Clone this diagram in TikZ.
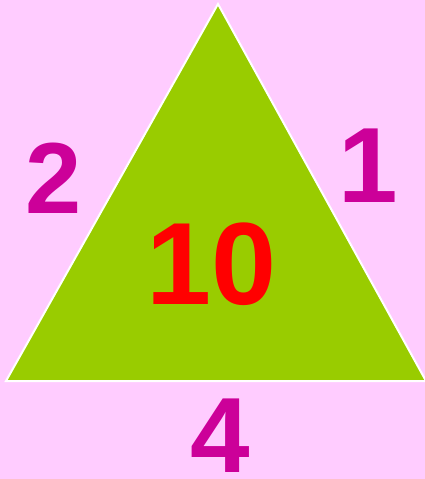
\documentclass[tikz,border=0pt]{standalone}
\usepackage{fontspec}
\setmainfont{Liberation Sans}
\usepackage{tikz}
\definecolor{bgpink}{HTML}{FFCCFF}
\definecolor{leafgreen}{HTML}{99CC00}
\definecolor{sidemagenta}{HTML}{CC0099}
\tikzset{side/.style = {text = sidemagenta, inner sep = 0pt, font = \bfseries\fontsize{107}{107}\selectfont}}
\tikzset{total/.style = {text = red, inner sep = 0pt, font = \bfseries\fontsize{117}{117}\selectfont}}

\begin{document}
\begin{tikzpicture}[x = 1pt, y = -1pt]
			\fill[bgpink] (0, 0) rectangle (425, 479);
			\useasboundingbox (0, 0) rectangle (425, 479);

			\coordinate (top) at (218, 4);
			\coordinate (left) at (6, 381);
			\coordinate (right) at (426, 381);
			\filldraw[fill = leafgreen, draw = white, line width = 2pt, line join = miter] (top) -- (left) -- (right) -- cycle;

			\node[side, font = \bfseries\fontsize{101}{101}\selectfont] (two) at (54, 178) {2};
			\node[side] (one) at (368, 166) {1};
			\node[side] (four) at (220, 436) {4};
			\node[total] (sum) at (212, 264) {10};
		\end{tikzpicture}
\end{document}
